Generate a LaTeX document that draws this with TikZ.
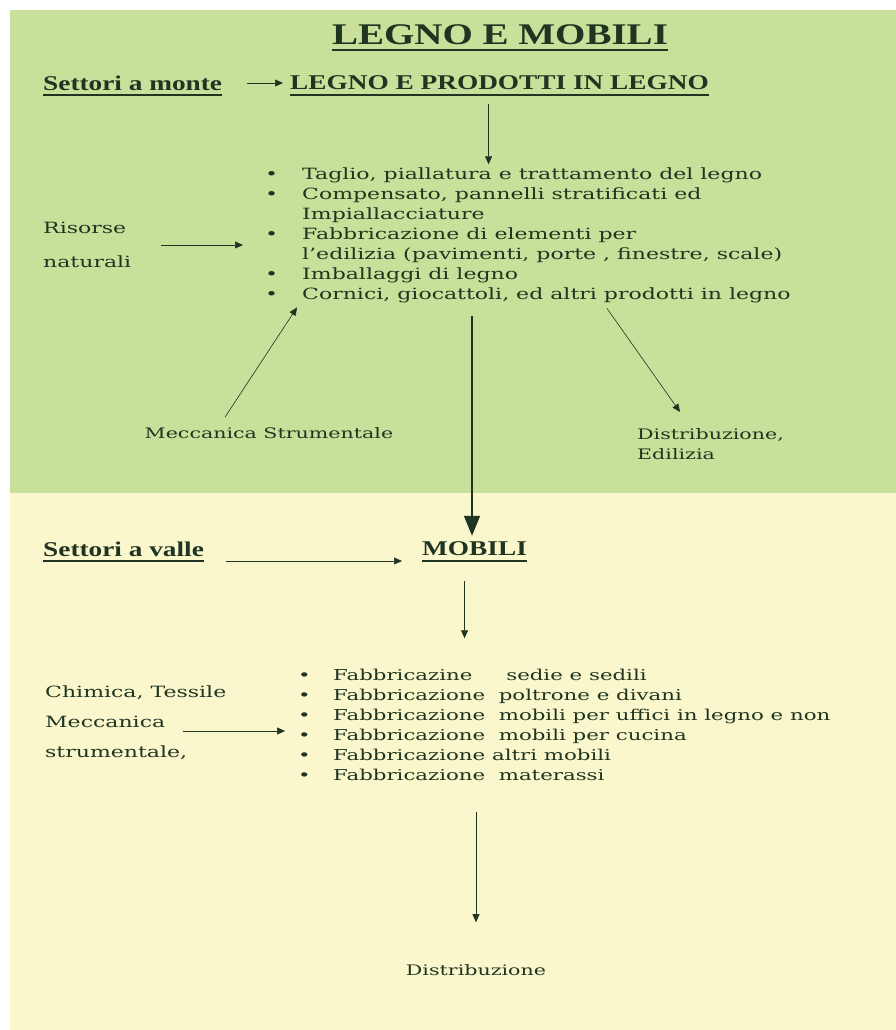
\documentclass[tikz,border=0pt]{standalone}
\usepackage{fontspec}
\setmainfont{Liberation Serif}
\newfontfamily\headfont[FakeStretch=1.3]{Liberation Serif}
\newfontfamily\bodyfont[FakeStretch=1.42]{DejaVu Serif}
\usetikzlibrary{arrows.meta, positioning}
\definecolor{topgreen}{HTML}{C9E09B}
\definecolor{lowyellow}{HTML}{FAF7CC}
\definecolor{inkgreen}{HTML}{1F3521}

\begin{document}
\begin{tikzpicture}[x=1pt, y=-1pt,
    heading/.style={font=\headfont\bfseries\fontsize{30}{32}\selectfont, text=inkgreen, inner sep=0pt},
    subhead/.style={font=\headfont\bfseries\fontsize{21}{23}\selectfont, text=inkgreen, inner sep=0pt},
    plain/.style={font=\bodyfont\fontsize{15.5}{20}\selectfont, text=inkgreen, inner sep=0pt, align=left},
    side/.style={plain, font=\bodyfont\fontsize{14.5}{20}\selectfont},
    link/.style={-{Triangle[length=8pt, width=7pt]}, semithick, inkgreen},
    biglink/.style={-{Triangle[length=20pt, width=16pt]}, line width=1.6pt, inkgreen},
    uline/.style={line width=2.5pt, inkgreen},
]
    \useasboundingbox (0,0) rectangle (896,1030);

    % Background bands
    \fill[topgreen] (10,10) rectangle (896,493);
    \fill[lowyellow] (10,493) rectangle (896,1030);

    % Upstream part
    \node[heading] (title) at (500,35) {LEGNO E MOBILI};
    \node[subhead, anchor=west] (monte) at (43,83) {Settori a monte};
    \node[subhead, anchor=west] (prodotti) at (290,83) {LEGNO E PRODOTTI IN LEGNO};

    \node[plain, anchor=north west] (woodlist) at (265,165) {%
        \begin{tabular}{@{}p{37pt}@{}l@{}}
        \textbullet & Taglio, piallatura e trattamento del legno\\
        \textbullet & Compensato, pannelli stratificati ed\\
                    & Impiallacciature\\
        \textbullet & Fabbricazione di elementi per\\
                    & l’edilizia (pavimenti, porte , finestre, scale)\\
        \textbullet & Imballaggi di legno\\
        \textbullet & Cornici, giocattoli, ed altri prodotti in legno
        \end{tabular}};

    \node[plain, anchor=west, font=\bodyfont\fontsize{15.5}{34}\selectfont] (risorse) at (43,245) {Risorse\\naturali};
    \node[side] (mecc) at (269,433) {Meccanica Strumentale};
    \node[side, anchor=north west] (distedil) at (637,428) {Distribuzione,\\Edilizia};

    % Downstream part
    \node[subhead, anchor=west] (valle) at (43,549) {Settori a valle};
    \node[subhead, anchor=west] (mobili) at (422,549) {MOBILI};

    \node[plain, anchor=north west, font=\bodyfont\fontsize{15}{20}\selectfont] (furnlist) at (298,666) {%
        \begin{tabular}{@{}p{35pt}@{}l@{}}
        \textbullet & Fabbricazine \ \ \ \ sedie e sedili\\
        \textbullet & Fabbricazione \ poltrone e divani\\
        \textbullet & Fabbricazione \ mobili per uffici in legno e non\\
        \textbullet & Fabbricazione \ mobili per cucina\\
        \textbullet & Fabbricazione altri mobili\\
        \textbullet & Fabbricazione \ materassi
        \end{tabular}};

    \node[plain, anchor=west, font=\bodyfont\fontsize{15.5}{30}\selectfont] (chimica) at (45,723) {Chimica, Tessile\\Meccanica\\strumentale,};
    \node[side] (distrib) at (476,970) {Distribuzione};

    % Underlines
    \foreach \hd in {title, monte, prodotti, valle, mobili}
        \draw[uline] ([yshift=-5pt]\hd.base west) -- ([yshift=-5pt]\hd.base east);

    % Links
    \draw[link] ([xshift=25pt]monte.east) -- ([xshift=-7pt]prodotti.west);
    \draw[link] ([xshift=-11pt,yshift=-14pt]prodotti.south) -- ++(0,60);
    \draw[link] ([xshift=30pt]risorse.east) -- ([xshift=-22pt]woodlist.west |- risorse.east);
    \draw[link] ([xshift=-44pt,yshift=10pt]mecc.north) -- ([xshift=32pt,yshift=-2pt]woodlist.south west);
    \draw[link] ([xshift=342pt,yshift=-3pt]woodlist.south west) -- ([xshift=43pt,yshift=16pt]distedil.north west);
    \draw[biglink] ([xshift=207pt,yshift=-11pt]woodlist.south west) -- ([yshift=6pt]mobili.north -| 472,0);
    \draw[link] ([xshift=22pt,yshift=-12pt]valle.east) -- ([xshift=-20pt,yshift=-12pt]mobili.west);
    \draw[link] ([xshift=-10pt,yshift=-25pt]mobili.south) -- ++(0,57);
    \draw[link] ([xshift=138pt,yshift=-8pt]chimica.west) -- ([xshift=-13pt,yshift=-8pt]furnlist.west |- chimica.west);
    \draw[link] ([yshift=152pt]distrib.north) -- ([yshift=42pt]distrib.north);
\end{tikzpicture}
\end{document}
